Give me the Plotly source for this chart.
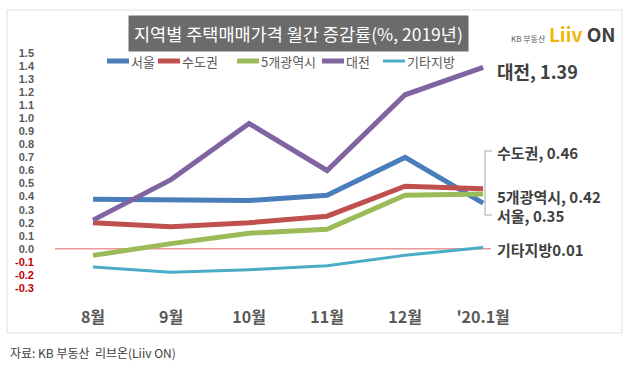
import plotly.graph_objects as go

months = ["8월", "9월", "10월", "11월", "12월", "'20.1월"]
seoul = [0.38, 0.375, 0.37, 0.41, 0.70, 0.35]
capital = [0.20, 0.17, 0.20, 0.25, 0.48, 0.46]
metro5 = [-0.05, 0.04, 0.12, 0.15, 0.41, 0.42]
daejeon = [0.22, 0.53, 0.96, 0.60, 1.18, 1.39]
others = [-0.14, -0.18, -0.16, -0.13, -0.05, 0.01]
ytick_vals = [1.5, 1.4, 1.3, 1.2, 1.1, 1.0, 0.9, 0.8, 0.7, 0.6, 0.5, 0.4, 0.3, 0.2, 0.1, 0.0, -0.1, -0.2, -0.3]

series = [
    ("서울", seoul, "#4A7EBB", 5),
    ("수도권", capital, "#C0504D", 5),
    ("5개광역시", metro5, "#9BBB59", 5),
    ("대전", daejeon, "#8064A2", 5),
    ("기타지방", others, "#4BACC6", 3),
]

FONT = "Noto Sans CJK KR"
L, R, T, B = 55, 8, 53, 85
PW, PH = 630 - L - R, 373 - T - B


def px(x):
    return (x - L) / PW


def py(y):
    return (373 - B - y) / PH


fig = go.Figure()
for name, vals, col, w in series:
    fig.add_trace(go.Scatter(x=months, y=vals, name=name, mode="lines",
                             line=dict(color=col, width=w), showlegend=False))

ytext = []
for v in ytick_vals:
    if v < 0:
        ytext.append(f"<b><span style='color:#C00000'>{v:.1f}</span></b>")
    else:
        ytext.append(f"<b>{v:.1f}</b>")

fig.update_layout(
    width=630, height=373,
    margin=dict(l=L, r=R, t=T, b=B),
    paper_bgcolor="white", plot_bgcolor="white",
    font=dict(family=FONT, color="#595959"),
    xaxis=dict(range=[-0.487, 6.78], showgrid=False, zeroline=False, showline=False,
               tickvals=months, ticktext=[f"<b>{m}</b>" for m in months],
               tickfont=dict(size=16, color="#595959", family=FONT),
               ticklabelstandoff=18, ticks=""),
    yaxis=dict(range=[-0.3, 1.5], showgrid=False, zeroline=False, showline=False,
               tickvals=ytick_vals, ticktext=ytext,
               tickfont=dict(size=11, color="#595959", family="Liberation Sans"),
               ticklabelstandoff=20, ticks=""),
)

# zero line
fig.add_shape(type="line", xref="x", yref="y", x0=-0.49, x1=5.1, y0=0, y1=0,
              line=dict(color="#E06666", width=1), layer="below")
# outer frame
fig.add_shape(type="rect", xref="paper", yref="paper",
              x0=px(7), x1=px(622), y0=py(333), y1=py(10),
              line=dict(color="#E0E0E0", width=1), layer="below")
# bracket
fig.add_shape(type="path", xref="paper", yref="paper",
              path=f"M {px(492)},{py(151)} L {px(485)},{py(151)} L {px(485)},{py(215)} L {px(492)},{py(215)}",
              line=dict(color="#A6A6A6", width=1))

# custom legend
leg_x = [107, 158, 237, 322, 383]
for (name, vals, col, w), lx in zip(series, leg_x):
    fig.add_shape(type="line", xref="paper", yref="paper",
                  x0=px(lx), x1=px(lx + 22), y0=py(61), y1=py(61),
                  line=dict(color=col, width=w))
    fig.add_annotation(text=name, xref="paper", yref="paper", x=px(lx + 22), y=py(61),
                       showarrow=False, xanchor="left", yanchor="middle",
                       font=dict(size=13, color="#595959", family=FONT))

# title box
fig.add_annotation(text="지역별 주택매매가격 월간 증감률(%, 2019년)", xref="paper", yref="paper",
                   x=px(298), y=py(33), showarrow=False,
                   font=dict(size=17.5, color="white", family=FONT),
                   bgcolor="#6B6B6B", borderpad=5, xanchor="center", yanchor="middle")
# logo
fig.add_annotation(text="<span style='font-size:8px;color:#595959'>KB 부동산  </span>"
                        "<b><span style='color:#F2B705'>Liiv</span> <span style='color:#404040'>ON</span></b>",
                   xref="paper", yref="paper", x=px(618), y=py(33),
                   showarrow=False, xanchor="right", yanchor="middle",
                   font=dict(size=19, family=FONT))
# source
fig.add_annotation(text="자료: KB 부동산  리브온(Liiv ON)", xref="paper", yref="paper",
                   x=px(8), y=py(352), showarrow=False,
                   xanchor="left", yanchor="middle",
                   font=dict(size=12, color="#404040", family=FONT))

# end labels
labels = [
    ("대전, 1.39", daejeon[-1], -4, 18),
    ("수도권, 0.46", capital[-1], 36, 15),
    ("5개광역시, 0.42", metro5[-1], -2, 15),
    ("서울, 0.35", seoul[-1], -12, 15),
    ("기타지방0.01", others[-1], -2, 15),
]
for txt, v, ys, fs in labels:
    fig.add_annotation(text=f"<b>{txt}</b>", x=months[-1], y=v, xref="x", yref="y",
                       showarrow=False, xanchor="left", yanchor="middle",
                       xshift=12, yshift=ys,
                       font=dict(size=fs, color="#404040", family=FONT))

fig.write_html("out.html", config={"displayModeBar": False},
               post_script="document.body.style.margin='0px';")
